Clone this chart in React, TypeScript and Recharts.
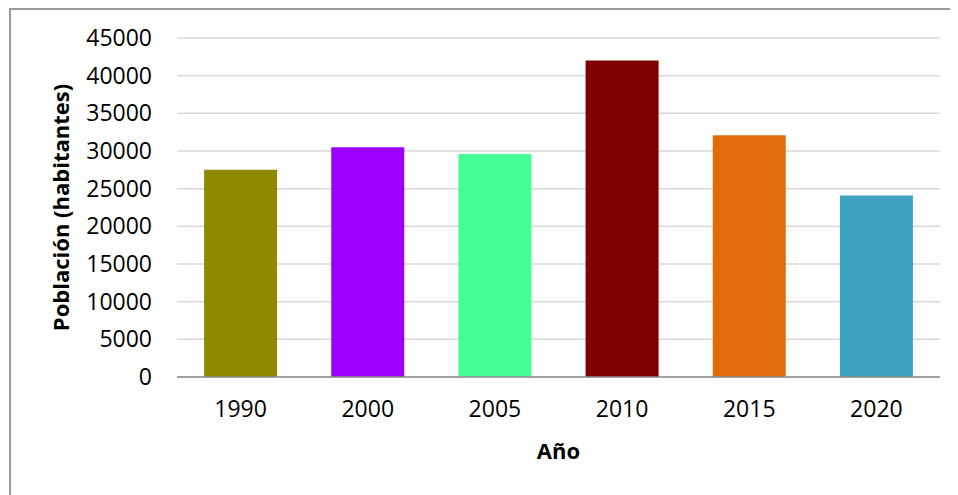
import React from 'react';
import { BarChart, Bar, XAxis, YAxis, CartesianGrid, Cell } from 'recharts';

const years = ['1990', '2000', '2005', '2010', '2015', '2020'];
const population = [27500, 30500, 29600, 42000, 32100, 24100];
const barColors = ['#8E8A00', '#9B00FF', '#45FF96', '#800000', '#E36C0A', '#3EA3C0'];
const yTicks = [0, 5000, 10000, 15000, 20000, 25000, 30000, 35000, 40000, 45000];

const data = years.map((y, i) => ({ year: y, value: population[i] }));

const YLabel = (props: any) => {
  const vb = props.viewBox || {};
  const x = vb.x + 58;
  const y = vb.y + vb.height / 2;
  return (
    <text x={x} y={y} transform={`rotate(-90, ${x}, ${y})`} textAnchor="middle" fontSize={22} fontWeight="bold" fill="#000">
      Población (habitantes)
    </text>
  );
};

const XLabel = (props: any) => {
  const vb = props.viewBox || {};
  const x = vb.x + vb.width / 2;
  const y = vb.y + 73;
  return (
    <text x={x} y={y} textAnchor="middle" dominantBaseline="central" fontSize={22} fontWeight="bold" fill="#000">
      Año
    </text>
  );
};

export default function App() {
  return (
    <div
      style={{
        width: 949,
        height: 487,
        marginLeft: 1,
        boxSizing: 'border-box',
        borderTop: '2px solid #9a9a9a',
        borderLeft: '2px solid #9a9a9a',
        fontFamily: '"Open Sans", sans-serif',
        background: '#fff',
        overflow: 'hidden',
      }}
    >
      <BarChart
        width={947}
        height={485}
        data={data}
        margin={{ top: 28, right: 18, bottom: 0, left: 0 }}
        barCategoryGap="21.3%"
      >
        <CartesianGrid vertical={false} stroke="#d9d9d9" strokeWidth={1.5} />
        <XAxis
          dataKey="year"
          height={118}
          axisLine={{ stroke: '#8c8c8c', strokeWidth: 1.5 }}
          tickLine={false}
          tickSize={0}
          tickMargin={24}
          tick={{ fill: '#000', fontSize: 23 }}
          label={<XLabel />}
        />
        <YAxis
          width={166}
          domain={[0, 45000]}
          ticks={yTicks}
          interval={0}
          axisLine={false}
          tickLine={false}
          tickSize={0}
          tickMargin={25}
          tick={{ fill: '#000', fontSize: 23 }}
          label={<YLabel />}
        />
        <Bar dataKey="value" isAnimationActive={false}>
          {data.map((d, i) => (
            <Cell key={d.year} fill={barColors[i]} />
          ))}
        </Bar>
      </BarChart>
    </div>
  );
}
